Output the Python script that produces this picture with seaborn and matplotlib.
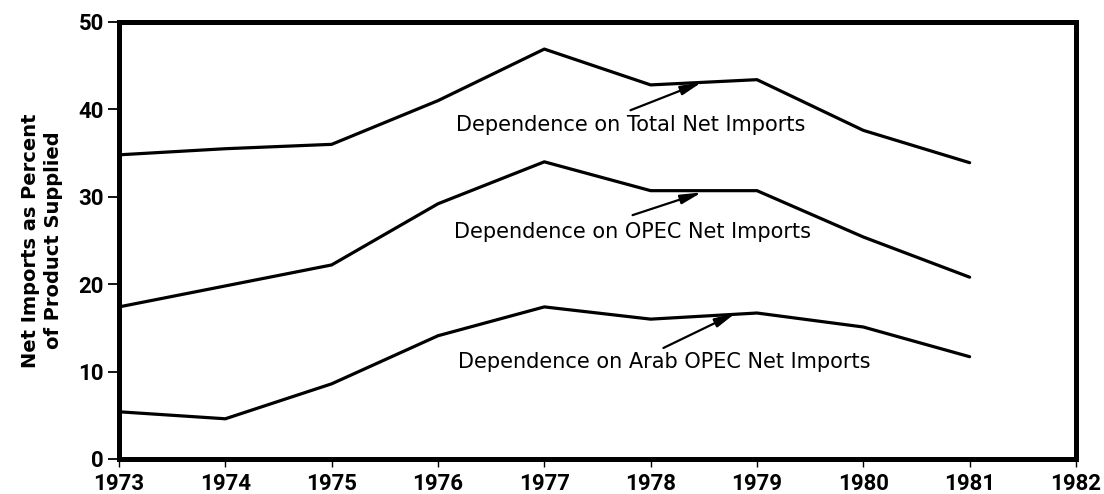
import matplotlib
matplotlib.use("Agg")
import matplotlib.pyplot as plt
import seaborn as sns
import pandas as pd

years = [1973, 1974, 1975, 1976, 1977, 1978, 1979, 1980, 1981]
total_net = [34.8, 35.5, 36.0, 41.0, 46.9, 42.8, 43.4, 37.6, 33.9]
opec_net = [17.4, 19.8, 22.2, 29.2, 34.0, 30.7, 30.7, 25.4, 20.8]
arab_opec_net = [5.4, 4.6, 8.6, 14.1, 17.4, 16.0, 16.7, 15.1, 11.7]
series_names = ["Dependence on Total Net Imports",
                "Dependence on OPEC Net Imports",
                "Dependence on Arab OPEC Net Imports"]
x_ticks = list(range(1973, 1983))
y_ticks = [0, 10, 20, 30, 40, 50]

sns.set_theme(style="white")
plt.rcParams['font.family'] = ['DejaVu Sans']
plt.rcParams['text.color'] = 'black'
plt.rcParams['xtick.color'] = 'black'
plt.rcParams['ytick.color'] = 'black'
plt.rcParams['axes.labelcolor'] = 'black'

df = pd.concat([
    pd.DataFrame({"year": years, "value": v, "series": n})
    for v, n in zip([total_net, opec_net, arab_opec_net], series_names)
])

fig = plt.figure(figsize=(11.04, 4.94), dpi=100)
ax = fig.add_axes([0.1078, 0.0709, 0.8668, 0.8846])
sns.lineplot(data=df, x="year", y="value", hue="series",
             palette=["black"] * 3, linewidth=2.3, legend=False, ax=ax,
             sort=False)

tick_font = dict(family="Roboto", weight="bold", size=16)
ax.set_xlim(1973, 1982)
ax.set_ylim(0, 50)
ax.set_xticks(x_ticks)
ax.set_xticklabels([str(t) for t in x_ticks], fontdict=tick_font)
ax.set_yticks(y_ticks)
ax.set_yticklabels([str(t) for t in y_ticks], fontdict=tick_font)
ax.tick_params(axis='x', bottom=True, direction='out', length=6, width=1,
               color='black', pad=4)
ax.tick_params(axis='y', left=True, direction='out', length=8, width=1.3,
               color='black', pad=3)
ax.set_xlabel("")
ax.set_ylabel("Net Imports as Percent\nof Product Supplied",
              fontdict=dict(family="DejaVu Sans", weight="bold", size=14),
              labelpad=11, linespacing=1.25)
for s in ax.spines.values():
    s.set_visible(True)
    s.set_color("black")
    s.set_linewidth(3.6)

# annotations: (text, text position, arrow tail, arrow head)
labels = [
    (series_names[0], (1977.81, 38.2), (1977.81, 39.9), (1978.48, 43.1)),
    (series_names[1], (1977.83, 26.0), (1977.83, 27.9), (1978.48, 30.5)),
    (series_names[2], (1978.13, 11.1), (1978.12, 12.7), (1978.80, 16.7)),
]
for txt, tpos, tail, head in labels:
    ax.text(tpos[0], tpos[1], txt, ha="center", va="center", fontsize=15)
    ax.annotate("", xy=head, xytext=tail,
                arrowprops=dict(arrowstyle="-|>,head_length=0.9,head_width=0.2",
                                color="black", lw=1.6,
                                mutation_scale=14, shrinkA=0, shrinkB=0))

fig.savefig("out.png", dpi=100)
